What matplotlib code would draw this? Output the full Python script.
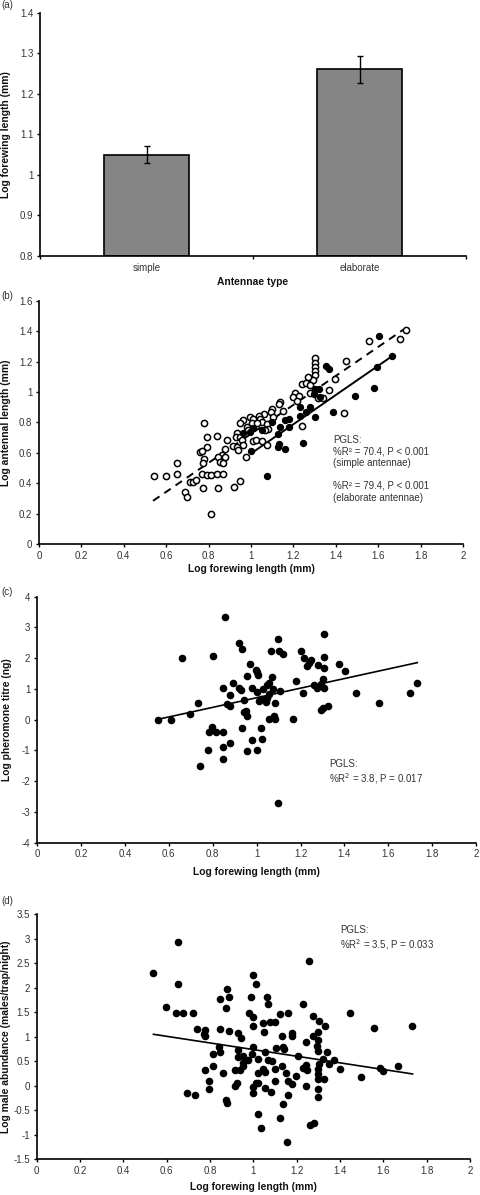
import matplotlib
matplotlib.use("Agg")
import matplotlib.pyplot as plt
from matplotlib.ticker import FuncFormatter, MultipleLocator, FixedLocator
import numpy as np

plt.rcParams['font.family'] = ['Liberation Sans', 'DejaVu Sans']

# ---------------- Panel (a) ----------------
antennae_types = ["simple", "elaborate"]
forewing_means = [1.05, 1.26]
forewing_se = [0.021, 0.033]

# ---------------- Panel (b) ----------------
simple_x = [0.541, 0.598, 0.651, 0.651, 0.689, 0.698, 0.714, 0.726, 0.739, 0.758,
            0.775, 0.809, 0.842, 0.919, 0.950,
            1.302, 1.302, 1.302, 1.302, 1.302, 1.291, 1.449, 1.397, 1.370, 1.439,
            1.271, 1.240, 1.260, 1.279, 1.276, 1.318, 1.341, 1.208, 1.200, 1.228,
            1.215, 1.137, 1.130, 1.153, 1.098, 1.093, 1.106, 1.059, 1.040, 1.043,
            1.054, 1.074, 1.082, 1.066, 0.996, 1.011, 1.003, 1.027, 0.980, 0.987,
            0.961, 0.948, 0.933, 0.930, 0.948, 0.956, 0.964, 0.917, 0.933, 0.941,
            0.889, 0.838, 0.794, 0.776, 0.794, 0.768, 0.878, 0.862, 0.846, 0.878,
            0.854, 0.870, 0.776, 0.773, 0.768, 0.791, 0.810, 0.838, 0.870, 0.976,
            1.011, 1.024, 1.050, 1.074, 1.240, 1.732, 1.701, 1.556]
simple_y = [0.450, 0.450, 0.461, 0.531, 0.345, 0.312, 0.410, 0.408, 0.424, 0.605,
            0.371, 0.194, 0.367, 0.373, 0.415,
            1.220, 1.191, 1.165, 1.139, 1.110, 1.077, 1.202, 1.082, 1.016, 0.859,
            1.099, 1.051, 1.060, 1.045, 0.990, 0.957, 0.957, 0.994, 0.968, 0.972,
            0.942, 0.935, 0.919, 0.876, 0.891, 0.869, 0.836, 0.858, 0.841, 0.819,
            0.805, 0.788, 0.755, 0.749, 0.832, 0.819, 0.793, 0.793, 0.771, 0.749,
            0.816, 0.793, 0.727, 0.701, 0.706, 0.684, 0.651, 0.644, 0.636, 0.618,
            0.684, 0.710, 0.701, 0.797, 0.636, 0.614, 0.628, 0.585, 0.574, 0.569,
            0.541, 0.530, 0.561, 0.533, 0.463, 0.457, 0.457, 0.463, 0.463, 0.574,
            0.679, 0.684, 0.679, 0.651, 0.775, 1.408, 1.347, 1.332]
elab_x = [1.353, 1.369, 1.302, 1.322, 1.295, 1.326, 1.276, 1.232, 1.260, 1.302,
          1.232, 1.177, 1.161, 1.177, 1.137, 1.098, 1.050, 1.011, 0.996, 0.964,
          1.127, 1.130, 1.127, 1.161, 1.243, 1.385, 1.492, 1.000, 1.074,
          1.603, 1.666, 1.595, 1.581]
elab_y = [1.169, 1.148, 1.022, 1.022, 0.985, 0.967, 0.902, 0.898, 0.869, 0.836,
          0.840, 0.825, 0.814, 0.771, 0.771, 0.805, 0.749, 0.760, 0.738, 0.727,
          0.723, 0.658, 0.636, 0.627, 0.662, 0.869, 0.971, 0.612, 0.444,
          1.371, 1.236, 1.162, 1.026]
# fitted lines (intercept, slope, x-range)
simple_fit = (0.284 - 0.953 * 0.538, 0.953, (0.538, 1.72))
elab_fit = (0.598 - 0.962 * 1.003, 0.962, (1.003, 1.666))

# ---------------- Panel (c) ----------------
pher_x = [0.550, 0.608, 0.661, 0.854,
          0.697, 0.733, 0.742, 0.800, 0.780, 0.783, 0.798, 0.815, 0.845, 0.848,
          0.845, 0.864, 0.879, 0.879, 0.879, 0.891, 0.848, 0.920, 0.932, 0.921,
          0.927, 0.944, 0.952, 0.943, 0.958, 0.932, 0.955, 0.979, 1.003, 1.023,
          1.022, 0.970, 0.997, 1.000, 1.008, 0.958, 0.979, 1.000, 1.012, 1.018,
          1.027, 1.049, 1.043, 1.058, 1.073, 1.069, 1.058, 1.046, 1.082, 1.055,
          1.081, 1.084, 1.107, 1.099, 1.064, 1.100, 1.118, 1.164, 1.179, 1.202,
          1.217, 1.213, 1.246, 1.240, 1.231, 1.261, 1.273, 1.281, 1.292, 1.304,
          1.307, 1.307, 1.307, 1.307, 1.292, 1.304, 1.327, 1.375, 1.402,
          1.451, 1.556, 1.699, 1.731, 1.098]
pher_y = [0.00, 0.00, 2.00, 3.32,
          0.171, 0.529, -1.518, 2.067, -0.988, -0.413, -0.251, -0.392, -0.413, -0.879,
          -1.280, 0.507, 0.453, 0.800, -0.771, 1.179, 1.016, 2.500, 2.284, 1.016,
          0.962, 0.626, 0.280, 0.236, 0.106, -0.283, -1.020, -0.652, -0.998, -0.630,
          -0.283, 1.796, 1.612, 1.536, 1.450, 1.428, 1.016, 0.908, 0.605, 0.670,
          0.984, 0.691, 0.561, 0.821, 0.995, 1.374, 1.179, 1.125, 0.529, 0.020,
          0.128, 0.020, 0.930, 2.620, 2.219, 2.230, 2.143, 0.009, 1.255, 2.241,
          2.013, 0.876, 1.948, 1.850, 1.731, 1.125, 1.038, 1.775, 1.168, 1.320,
          1.016, 1.666, 2.046, 2.782, 0.312, 0.366, 0.453, 1.818, 1.591,
          0.87, 0.54, 0.85, 1.19, -2.70]
pher_fit = (-1.56 * 0.545, 1.56, (0.545, 1.732))

# ---------------- Panel (d) ----------------
abund_x = [0.539, 0.651, 0.651, 0.598, 0.644, 0.674, 0.696,
           1.000, 1.012, 0.877, 0.846, 0.889, 0.988, 1.061, 1.066, 0.874, 1.231,
           1.255, 0.720, 0.978, 1.000, 1.123, 1.161, 1.274, 1.446, 1.043, 1.077,
           1.100, 1.000, 1.305, 1.331, 0.741, 0.777, 0.772, 0.777, 0.846, 0.889,
           0.931, 0.941, 1.049, 1.131, 1.177, 1.177, 1.243, 1.277, 1.300, 1.300,
           0.843, 0.846, 0.812, 0.931, 0.931, 0.954, 1.000, 0.992, 0.977, 1.023,
           1.054, 1.069, 1.085, 1.105, 1.135, 1.141, 1.208, 1.292, 1.300, 1.341,
           1.323, 1.351, 1.372, 1.400, 1.305, 1.300, 1.243, 1.231, 1.246, 0.777,
           0.812, 0.861, 0.915, 0.938, 0.954, 0.954, 1.023, 1.043, 1.054, 1.100,
           1.131, 1.151, 1.197, 1.300, 1.300, 1.328, 0.797, 0.797, 0.915, 0.923,
           1.012, 1.023, 1.000, 1.000, 1.054, 1.080, 1.100, 1.161, 1.177, 1.243,
           1.300, 1.300, 1.161, 0.731, 0.874, 0.877, 1.138, 1.023, 1.123, 1.034,
           1.261, 1.280,
           1.558, 1.731, 1.669, 1.585, 1.600, 1.495, 1.154]
abund_y = [2.291, 2.923, 2.073, 1.611, 1.489, 1.489, -0.155,
           2.257, 2.067, 1.971, 1.768, 1.802, 1.815, 1.815, 1.659, 1.584, 1.659,
           2.549, 1.489, 1.489, 1.408, 1.462, 1.476, 1.421, 1.476, 1.285, 1.306,
           1.292, 1.217, 1.319, 1.217, 1.156, 1.136, 1.054, 1.013, 1.156, 1.122,
           1.081, 0.966, 1.088, 1.013, 1.068, 1.013, 0.898, 1.013, 0.932, 1.102,
           0.783, 0.694, 0.647, 0.728, 0.592, 0.606, 0.783, 0.647, 0.524, 0.545,
           0.694, 0.524, 0.511, 0.762, 0.796, 0.755, 0.613, 0.810, 0.715, 0.687,
           0.538, 0.443, 0.524, 0.334, 0.443, 0.334, 0.422, 0.355, 0.321, 0.321,
           0.402, 0.253, 0.321, 0.321, 0.402, 0.456, 0.266, 0.334, 0.287, 0.334,
           0.402, 0.253, 0.205, 0.232, 0.130, 0.130, 0.103, -0.074, -0.005, 0.049,
           0.062, 0.062, -0.019, -0.141, -0.039, -0.121, 0.103, 0.103, 0.035, -0.005,
           -0.074, -0.236, -0.189, -0.189, -0.291, -0.345, -0.372, -0.576, -0.664, -0.868,
           -0.800, -0.753,
           1.170, 1.217, 0.402, 0.355, 0.300, 0.185, -1.140]
abund_fit = (1.048 + 0.676 * 0.539, -0.676, (0.539, 1.735))

# ---------------- Figure ----------------
W, H = 480, 1195
fig = plt.figure(figsize=(W / 100, H / 100), dpi=100)

def px_axes(x0, x1, ytop, ybot):
    ax = fig.add_axes([x0 / W, 1 - ybot / H, (x1 - x0) / W, (ybot - ytop) / H])
    ax._pxbox = (x0, x1, ytop, ybot)
    return ax

fmt = FuncFormatter(lambda v, p: f"{v:g}")
TICK_FS = 7
LAB_FS = 7.4
TXT_COL = '#333333'

def style(ax):
    for s in ['top', 'right']:
        ax.spines[s].set_visible(False)
    for s in ['left', 'bottom']:
        ax.spines[s].set_linewidth(1.2)
    ax.tick_params(direction='out', length=2.2, width=1.0, labelsize=TICK_FS,
                   labelcolor=TXT_COL, pad=2.6)

def labels(ax, xlab, ylab, xlab_below=26, ylab_px=6):
    x0, x1, ytop, ybot = ax._pxbox
    ax.set_xlabel(xlab, fontsize=LAB_FS, fontweight='bold', color='#111111')
    ax.set_ylabel(ylab, fontsize=LAB_FS, fontweight='bold', color='#111111')
    ax.xaxis.set_label_coords(0.5, -xlab_below / (ybot - ytop))
    ax.xaxis.label.set_va('center')
    ax.yaxis.set_label_coords((ylab_px - x0) / (x1 - x0), 0.5)
    ax.yaxis.label.set_va('center')

def fitline(ax, fit, **kw):
    a, b, (xa, xb) = fit
    xs = np.array([xa, xb])
    ax.plot(xs, a + b * xs, color='black', **kw)

# (a)
axa = px_axes(40, 466, 12.7, 256)
style(axa)
xpos = np.arange(len(antennae_types))
axa.bar(xpos, [m - 0.8 for m in forewing_means], bottom=0.8, width=0.4,
        color='#858585', edgecolor='black', linewidth=1.2, zorder=2)
axa.errorbar(xpos, forewing_means, yerr=forewing_se, fmt='none', ecolor='black',
             elinewidth=1.0, capsize=2.2, capthick=1.0, zorder=3)
axa.set_xlim(-0.5, 1.5)
axa.set_ylim(0.8, 1.4)
axa.yaxis.set_major_locator(MultipleLocator(0.1))
axa.yaxis.set_major_formatter(fmt)
axa.xaxis.set_major_locator(FixedLocator([-0.5, 0.5, 1.5]))
axa.xaxis.set_major_formatter(FuncFormatter(lambda v, p: ""))
axa.xaxis.set_minor_locator(FixedLocator(xpos))
axa.set_xticklabels(antennae_types, minor=True)
axa.tick_params(axis='x', which='minor', length=0, labelsize=TICK_FS,
                labelcolor=TXT_COL, pad=5)
labels(axa, "Antennae type", "Log forewing length (mm)", xlab_below=26)

# (b)
axb = px_axes(39, 463, 300.7, 544)
style(axb)
axb.scatter(simple_x, simple_y, s=20, facecolor='white', edgecolor='black',
            linewidth=1.1, zorder=3)
axb.scatter(elab_x, elab_y, s=20, facecolor='black', edgecolor='black',
            linewidth=0.8, zorder=4)
fitline(axb, simple_fit, lw=1.4, linestyle=(0, (4, 3)), zorder=2)
fitline(axb, elab_fit, lw=1.4, zorder=2)
axb.set_xlim(0, 2)
axb.set_ylim(0, 1.6)
axb.xaxis.set_major_locator(MultipleLocator(0.2))
axb.yaxis.set_major_locator(MultipleLocator(0.2))
axb.xaxis.set_major_formatter(fmt)
axb.yaxis.set_major_formatter(fmt)
labels(axb, "Log forewing length (mm)", "Log antennal length (mm)", xlab_below=25)
axb.text(1.387, 0.72, "PGLS:\n%R² = 70.4, P < 0.001\n(simple antennae)\n\n"
         "%R² = 79.4, P < 0.001\n(elaborate antennae)",
         fontsize=7, color=TXT_COL, va='top', ha='left', linespacing=1.2)

# (c)
axc = px_axes(37, 476.2, 596.5, 842.7)
style(axc)
axc.scatter(pher_x, pher_y, s=20, color='black', zorder=3)
fitline(axc, pher_fit, lw=1.2, zorder=2)
axc.set_xlim(0, 2)
axc.set_ylim(-4, 4)
axc.xaxis.set_major_locator(MultipleLocator(0.2))
axc.yaxis.set_major_locator(MultipleLocator(1))
axc.xaxis.set_major_formatter(fmt)
axc.yaxis.set_major_formatter(fmt)
labels(axc, "Log forewing length (mm)", "Log pheromone titre (ng)", xlab_below=29, ylab_px=7)
axc.text(1.33, -1.27, "PGLS:\n%R$^2$ = 3.8, P = 0.017", fontsize=7, color=TXT_COL,
         va='top', ha='left', linespacing=1.2)

# (d)
axd = px_axes(36.7, 470, 914, 1159.3)
style(axd)
axd.scatter(abund_x, abund_y, s=20, color='black', zorder=3)
fitline(axd, abund_fit, lw=1.2, zorder=2)
axd.set_xlim(0, 2)
axd.set_ylim(-1.5, 3.5)
axd.xaxis.set_major_locator(MultipleLocator(0.2))
axd.yaxis.set_major_locator(MultipleLocator(0.5))
axd.xaxis.set_major_formatter(fmt)
axd.yaxis.set_major_formatter(fmt)
labels(axd, "Log forewing length (mm)", "Log male abundance (males/trap/night)",
       xlab_below=28)
axd.text(1.40, 3.27, "PGLS:\n%R$^2$ = 3.5, P = 0.033", fontsize=7, color=TXT_COL,
         va='top', ha='left', linespacing=1.2)

# panel letters
for lab, ypx in [("(a)", 5), ("(b)", 296), ("(c)", 592), ("(d)", 901)]:
    fig.text(1 / W, 1 - ypx / H, lab, fontsize=7, color=TXT_COL, va='center', ha='left')

fig.savefig("out.png", dpi=100)
